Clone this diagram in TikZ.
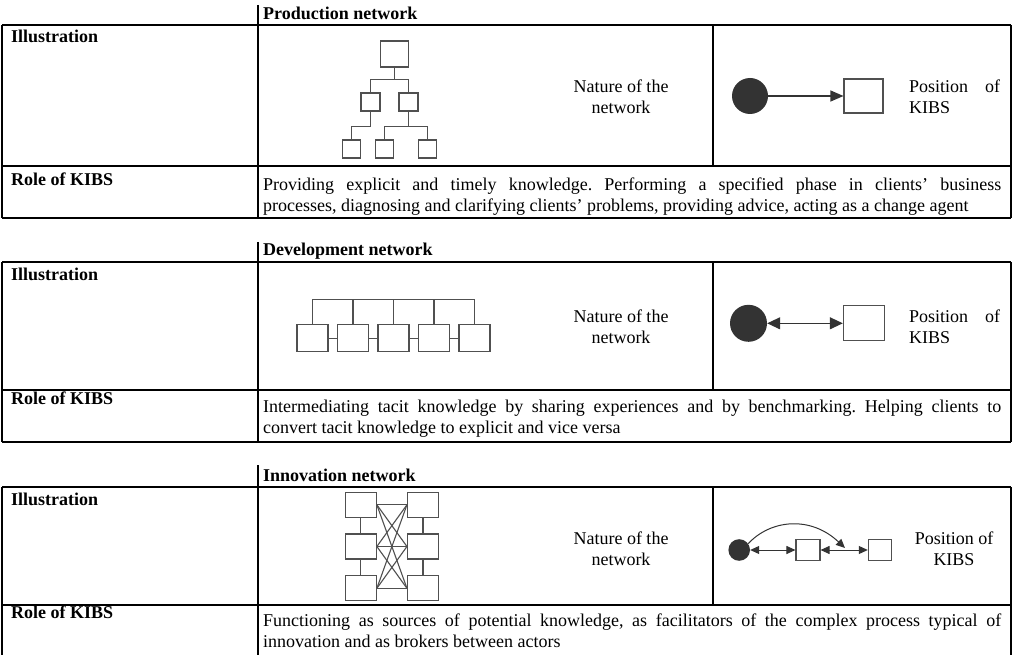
\documentclass[tikz,border=0pt]{standalone}
\usepackage{fontspec}
\setmainfont{Liberation Serif}
\usetikzlibrary{arrows.meta}
\definecolor{linegray}{HTML}{505050}
\definecolor{dotgray}{HTML}{333333}
\frenchspacing

\begin{document}
\begin{tikzpicture}[x=1pt,y=-1pt,
  every node/.style={font=\fontsize{18}{21}\selectfont, inner sep=0pt},
  tabline/.style={line width=2pt},
  link/.style={draw=linegray, line width=1.1pt},
  box/.style={draw=linegray, line width=1.1pt},
  dot/.style={circle, fill=dotgray},
  arr/.style={draw=dotgray, line width=1.1pt, -{Triangle[length=13pt,width=11pt]}},
  arrboth/.style={draw=dotgray, line width=1.1pt, {Triangle[length=13pt,width=12pt]}-{Triangle[length=13pt,width=12pt]}},
  arrsmall/.style={draw=dotgray, line width=1pt, {Triangle[length=9pt,width=8pt]}-{Triangle[length=9pt,width=8pt]}},
  arrcurve/.style={draw=dotgray, line width=1pt, -{Triangle[length=9pt,width=8pt]}},
  label/.style={font=\fontsize{18}{21}\selectfont\bfseries},
  roletext/.style={text width=738pt, align=justify}]
\useasboundingbox (0,0) rectangle (1013,655);
\fill[white] (0,0) rectangle (1013,655);

\draw[tabline] (2,25) -- (1011,25);
\draw[tabline] (2,166) -- (1011,166);
\draw[tabline] (2,218) -- (1011,218);
\draw[tabline] (2,25) -- (2,218);
\draw[tabline] (1011,25) -- (1011,218);
\draw[tabline] (258,5) -- (258,218);
\draw[tabline] (713,25) -- (713,166);

\node[label, anchor=base west] (headA) at (263,19.5) {Production network};
\node[label, anchor=base west] (illusA) at (11,43) {Illustration};
\node[label, anchor=base west] (roleA) at (11,185.5) {Role of KIBS};
\node[anchor=north, align=center] (natA) at (621,80) {Nature of the\\network};
\node[anchor=north west, text width=91pt, align=justify] (posA) at (909,80) {Position of\linebreak KIBS};
\node[roletext, anchor=north west] (textA) at (263,178) {Providing explicit and timely knowledge. Performing a specified phase in clients' business\linebreak processes, diagnosing and clarifying clients' problems, providing advice, acting as a change agent};

\node[box, minimum width=28pt, minimum height=26pt] (pTop) at (394.7,54) {};
\node[box, minimum width=19pt, minimum height=18pt] (pMidL) at (370.5,102) {};
\node[box, minimum width=19pt, minimum height=18pt] (pMidR) at (408.5,102) {};
\node[box, minimum size=18pt] (pLowA) at (351.5,149) {};
\node[box, minimum size=18pt] (pLowB) at (384.5,149) {};
\node[box, minimum size=18pt] (pLowC) at (427.5,149) {};
\coordinate (pJa) at (394.7,79.3);
\coordinate (pJb) at (370.5,126.7);
\coordinate (pJc) at (408.5,126.7);
\draw[link] (pTop) -- (pJa);
\draw[link] (pMidL) |- (pJa) -| (pMidR);
\draw[link] (pMidL) -- (pJb) -| (pLowA);
\draw[link] (pMidR) -- (pJc);
\draw[link] (pLowB) |- (pJc) -| (pLowC);

\node[dot, minimum size=36pt] (pFirm) at (750,96) {};
\node[box, minimum width=39pt, minimum height=34pt] (pKibs) at (863.5,96) {};
\draw[arr] (pFirm) -- (pKibs);

\draw[tabline] (2,262) -- (1011,262);
\draw[tabline] (2,390) -- (1011,390);
\draw[tabline] (2,442) -- (1011,442);
\draw[tabline] (2,262) -- (2,442);
\draw[tabline] (1011,262) -- (1011,442);
\draw[tabline] (258,242) -- (258,442);
\draw[tabline] (713,262) -- (713,390);

\node[label, anchor=base west] (headB) at (263,255.5) {Development network};
\node[label, anchor=base west] (illusB) at (11,280.5) {Illustration};
\node[label, anchor=base west] (roleB) at (11,404) {Role of KIBS};
\node[anchor=north, align=center] (natB) at (621,310) {Nature of the\\network};
\node[anchor=north west, text width=91pt, align=justify] (posB) at (909,310) {Position of\linebreak KIBS};
\node[roletext, anchor=north west] (textB) at (263,400) {Intermediating tacit knowledge by sharing experiences and by benchmarking. Helping clients to\linebreak convert tacit knowledge to explicit and vice versa};

\node[box, minimum width=31pt, minimum height=27pt] (dA) at (312.5,338.3) {};
\node[box, minimum width=31pt, minimum height=27pt] (dB) at (353,338.3) {};
\node[box, minimum width=31pt, minimum height=27pt] (dC) at (393.5,338.3) {};
\node[box, minimum width=31pt, minimum height=27pt] (dD) at (434,338.3) {};
\node[box, minimum width=31pt, minimum height=27pt] (dE) at (474.5,338.3) {};
\coordinate (dBusL) at (312.5,299.3);
\coordinate (dBusR) at (474.5,299.3);
\draw[link] (dA) -- (dBusL) -- (dBusR) -- (dE);
\draw[link] (dB) -- (dB |- dBusL);
\draw[link] (dC) -- (dC |- dBusL);
\draw[link] (dD) -- (dD |- dBusL);
\draw[link] (dA) -- (dB);
\draw[link] (dB) -- (dC);
\draw[link] (dC) -- (dD);
\draw[link] (dD) -- (dE);

\node[dot, minimum size=37pt] (dFirm) at (748.5,323.3) {};
\node[box, minimum width=40.7pt, minimum height=34.7pt] (dKibs) at (863.7,323.3) {};
\draw[arrboth] (dFirm) -- (dKibs);

\draw[tabline] (2,487) -- (1011,487);
\draw[tabline] (2,605) -- (1011,605);
\draw[tabline] (2,487) -- (2,656);
\draw[tabline] (1011,487) -- (1011,656);
\draw[tabline] (258,465) -- (258,656);
\draw[tabline] (713,487) -- (713,605);

\node[label, anchor=base west] (headC) at (263,481) {Innovation network};
\node[label, anchor=base west] (illusC) at (11,505.5) {Illustration};
\node[label, anchor=base west] (roleC) at (11,618) {Role of KIBS};
\node[anchor=north, align=center] (natC) at (621,531.5) {Nature of the\\network};
\node[anchor=north, align=center] (posC) at (954,531.5) {Position of\\KIBS};
\node[roletext, anchor=north west] (textC) at (263,614) {Functioning as sources of potential knowledge, as facilitators of the complex process typical of\linebreak innovation and as brokers between actors};

\node[box, minimum width=31pt, minimum height=25pt] (iLa) at (360.8,504.8) {};
\node[box, minimum width=31pt, minimum height=25pt] (iLb) at (360.8,546.5) {};
\node[box, minimum width=31pt, minimum height=25pt] (iLc) at (360.8,588.3) {};
\node[box, minimum width=31pt, minimum height=25pt] (iRa) at (423,504.8) {};
\node[box, minimum width=31pt, minimum height=25pt] (iRb) at (423,546.5) {};
\node[box, minimum width=31pt, minimum height=25pt] (iRc) at (423,588.3) {};
\draw[link] (iLa) -- (iLb);
\draw[link] (iLb) -- (iLc);
\draw[link] (iRa) -- (iRb);
\draw[link] (iRb) -- (iRc);
\draw[link] (iLa.east) -- (iRa.west);
\draw[link] (iLa.east) -- (iRb.west);
\draw[link] (iLa.east) -- (iRc.west);
\draw[link] (iLb.east) -- (iRa.west);
\draw[link] (iLb.east) -- (iRb.west);
\draw[link] (iLb.east) -- (iRc.west);
\draw[link] (iLc.east) -- (iRa.west);
\draw[link] (iLc.east) -- (iRb.west);
\draw[link] (iLc.east) -- (iRc.west);

\node[dot, minimum size=21.6pt] (iFirm) at (739.2,550) {};
\node[box, minimum width=24pt, minimum height=21pt] (iKibsA) at (808,550) {};
\node[box, minimum width=23.3pt, minimum height=21pt] (iKibsB) at (880,550) {};
\coordinate (iHit) at (845,548);
\draw[arrsmall] (iFirm) -- (iKibsA);
\draw[arrsmall] (iKibsA) -- (iKibsB);
\draw[arrcurve] (iFirm.35) .. controls (770,520) and (810,515) .. (iHit);

\end{tikzpicture}
\end{document}
